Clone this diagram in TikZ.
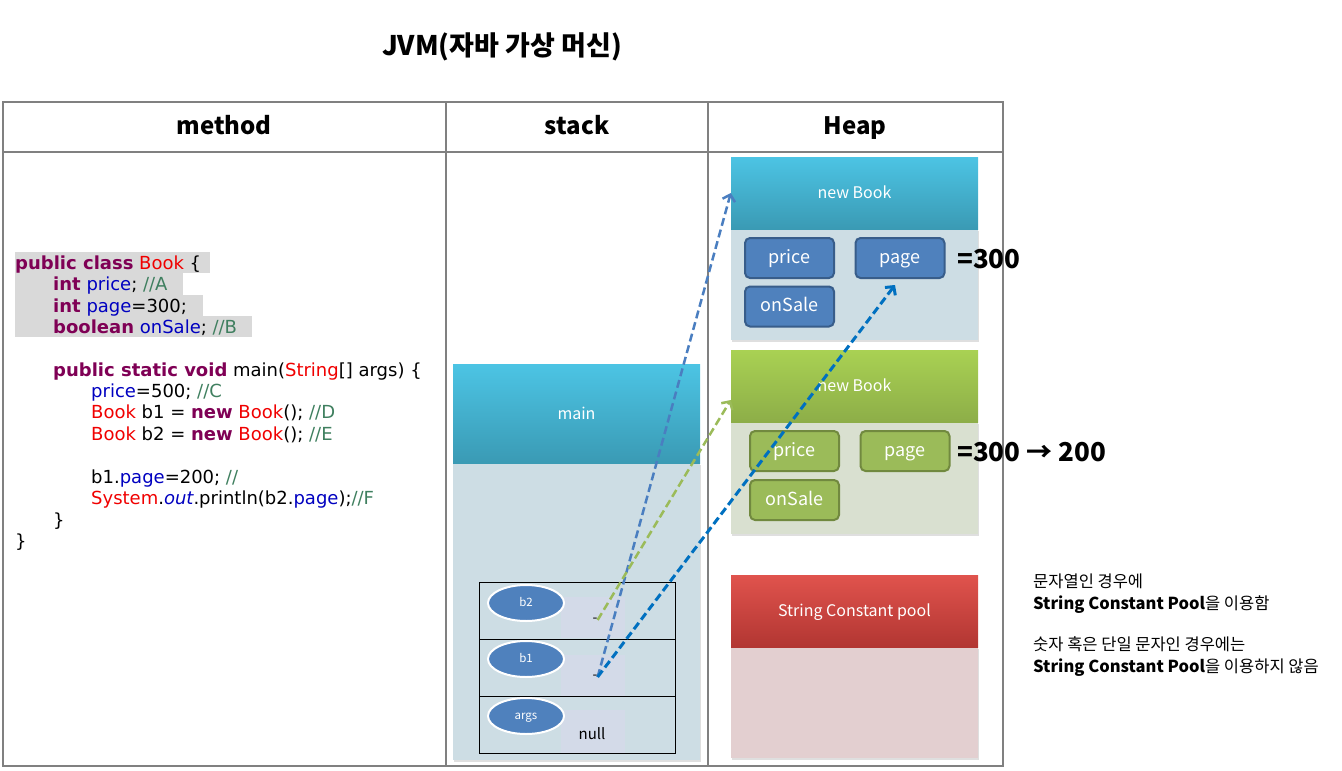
\documentclass[tikz,border=0pt]{standalone}
\usepackage{fontspec}
\setmainfont{Noto Sans CJK KR}
\newfontfamily\codefont{DejaVu Sans}
\usetikzlibrary{arrows.meta,shapes.geometric,shadows,calc}

\definecolor{kwcol}{HTML}{7F0055}
\definecolor{fldcol}{HTML}{0000C0}
\definecolor{clscol}{HTML}{F00000}
\definecolor{cmtcol}{HTML}{3F7F5F}
\definecolor{gridcol}{HTML}{808080}
\definecolor{hlcol}{HTML}{D9D9D9}
\definecolor{cyantop}{HTML}{4CC4E4}
\definecolor{cyanbot}{HTML}{3A9AB4}
\definecolor{greentop}{HTML}{A9D153}
\definecolor{greenbot}{HTML}{8DAE48}
\definecolor{redtop}{HTML}{E0534D}
\definecolor{redbot}{HTML}{B23632}
\definecolor{bluebody}{HTML}{CDDDE4}
\definecolor{greenbody}{HTML}{D9E0D0}
\definecolor{redbody}{HTML}{E3CFD0}
\definecolor{slotcol}{HTML}{D3DAE8}
\definecolor{fblue}{HTML}{4F81BD}
\definecolor{fblueline}{HTML}{385D8A}
\definecolor{fgreen}{HTML}{9BBB59}
\definecolor{fgreenline}{HTML}{71893F}
\definecolor{reflight}{HTML}{4A7EC0}
\definecolor{refdark}{HTML}{0070C0}

\newcommand\kw[1]{\textcolor{kwcol}{\bfseries #1}}
\newcommand\fld[1]{\textcolor{fldcol}{#1}}
\newcommand\cls[1]{\textcolor{clscol}{#1}}
\newcommand\cmt[1]{\textcolor{cmtcol}{#1}}

\begin{document}
\begin{tikzpicture}[x=1pt,y=-1pt,
  every node/.style={inner sep=0pt},
  code/.style={anchor=base west,font=\codefont\fontsize{18}{20}\selectfont},
  colhead/.style={anchor=base,font=\bfseries\fontsize{24}{27}\selectfont},
  hdr/.style={minimum width=247pt,minimum height=72pt,text=white,
    text height=2ex,text depth=.15ex,font=\fontsize{16}{19}\selectfont},
  field/.style={draw,line width=2pt,rounded corners=5pt,minimum width=89pt,
    minimum height=40pt,text=white,text height=2ex,text depth=.15ex,
    font=\fontsize{18}{21}\selectfont},
  var/.style={ellipse,draw=white,fill=fblue,line width=2pt,minimum width=76pt,
    minimum height=36pt,text=white,text height=1.5ex,text depth=.25ex,
    font=\fontsize{11.5}{13}\selectfont},
  ref/.style={dashed,dash pattern=on 8pt off 4pt,line width=2.5pt,
    -{Straight Barb[length=6pt,width=13pt]}},
  shade/.style={drop shadow={opacity=0.25,shadow xshift=1pt,shadow yshift=-2pt}}]
  \useasboundingbox (0,0) rectangle (1342,771);

  \node[font=\bfseries\fontsize{27}{30}\selectfont] (title) at (502,47) {JVM(자바 가상 머신)};

  % table
  \draw[gridcol,line width=1.5pt] (3,102) rectangle (1003,766);
  \draw[gridcol,line width=1.5pt] (3,152) -- (1003,152);
  \draw[gridcol,line width=1.5pt] (446,102) -- (446,766);
  \draw[gridcol,line width=1.5pt] (708,102) -- (708,766);
  \node[colhead] (hmethod) at (224,134) {method};
  \node[colhead] (hstack) at (577,134) {stack};
  \node[colhead] (hheap) at (855,134) {Heap};

  % method area
  \fill[hlcol] (15,252) rectangle (210,273);
  \fill[hlcol] (15,273) rectangle (183,295);
  \fill[hlcol] (15,295) rectangle (203,316);
  \fill[hlcol] (15,316) rectangle (252,337);
  \node[code] (l1) at (15,269) {\kw{public class} \cls{Book} \{};
  \node[code] (l2) at (53,290) {\kw{int} \fld{price}; \cmt{//A}};
  \node[code] (l3) at (53,312) {\kw{int} \fld{page}=300;};
  \node[code] (l4) at (53,333) {\kw{boolean} \fld{onSale}; \cmt{//B}};
  \node[code] (l5) at (53,376) {\kw{public static void} main(\cls{String}[] args) \{};
  \node[code] (l6) at (91,397) {\fld{price}=500; \cmt{//C}};
  \node[code] (l7) at (91,418) {\cls{Book} b1 = \kw{new} \cls{Book}(); \cmt{//D}};
  \node[code] (l8) at (91,440) {\cls{Book} b2 = \kw{new} \cls{Book}(); \cmt{//E}};
  \node[code] (l9) at (91,483) {b1.\fld{page}=200; \cmt{//}};
  \node[code] (l10) at (91,504) {\cls{System}.\fld{\itshape out}.println(b2.\fld{page});\cmt{//F}};
  \node[code] (l11) at (53,526) {\}};
  \node[code] (l12) at (15,547) {\}};

  % stack frame
  \fill[bluebody,shade] (453,463) rectangle (700,760);
  \node[hdr,minimum height=99pt,top color=cyantop,bottom color=cyanbot] (mainhdr) at (576.5,414) {main};
  \fill[slotcol] (561,597) rectangle (625,638);
  \fill[slotcol] (561,655) rectangle (625,696);
  \fill[slotcol] (561,710) rectangle (625,753);
  \draw[black] (479,582) rectangle (675,639);
  \draw[black] (479,639) rectangle (675,696);
  \draw[black] (479,696) rectangle (675,753);
  \node[var] (b2) at (526,603) {b2};
  \node[var] (b1) at (526,659) {b1};
  \node[var] (args) at (526,716) {args};
  \node[font=\fontsize{14}{16}\selectfont] (b2val) at (595,620) {-};
  \node[font=\fontsize{14}{16}\selectfont] (b1val) at (595,677) {-};
  \node[font=\fontsize{15}{17}\selectfont] (argsval) at (592,734) {null};

  % heap
  \fill[bluebody,shade] (731,229) rectangle (978,340);
  \node[hdr,top color=cyantop,bottom color=cyanbot] (nb1) at (854.5,193) {new Book};
  \node[field,fill=fblue,draw=fblueline] (price1) at (789.5,258) {price};
  \node[field,fill=fblue,draw=fblueline] (page1) at (900,258) {page};
  \node[field,fill=fblue,draw=fblueline] (onsale1) at (789.5,306.5) {onSale};
  \node[anchor=west,font=\bfseries\fontsize{26}{28}\selectfont] (eq1) at (957,259) {=300};

  \fill[greenbody,shade] (731,422) rectangle (978,534);
  \node[hdr,top color=greentop,bottom color=greenbot] (nb2) at (854.5,386) {new Book};
  \node[field,fill=fgreen,draw=fgreenline] (price2) at (794.5,451) {price};
  \node[field,fill=fgreen,draw=fgreenline] (page2) at (905,451) {page};
  \node[field,fill=fgreen,draw=fgreenline] (onsale2) at (794.5,500) {onSale};
  \node[anchor=west,font=\bfseries\fontsize{26}{28}\selectfont] (eq2) at (957,452) {=300 → 200};

  \fill[redbody,shade] (731,647) rectangle (978,758);
  \node[hdr,top color=redtop,bottom color=redbot] (pool) at (854.5,611) {String Constant pool};

  % references
  \draw[ref,reflight] (b1val.east) -- (nb1.west);
  \draw[ref,fgreen] (b2val.east) -- ($(nb2.west)+(0,14)$);
  \draw[ref,refdark,line width=3pt] (b1val.east) -- ($(page1.south)+(-5,6)$);

  % notes
  \node[anchor=west,align=left,font=\fontsize{16.5}{22}\selectfont] (note1) at (1033,594)
    {문자열인 경우에\\\textbf{String Constant Pool}을 이용함};
  \node[anchor=west,align=left,font=\fontsize{16.5}{22}\selectfont] (note2) at (1033,657)
    {숫자 혹은 단일 문자인 경우에는\\\textbf{String Constant Pool}을 이용하지 않음};
\end{tikzpicture}
\end{document}
